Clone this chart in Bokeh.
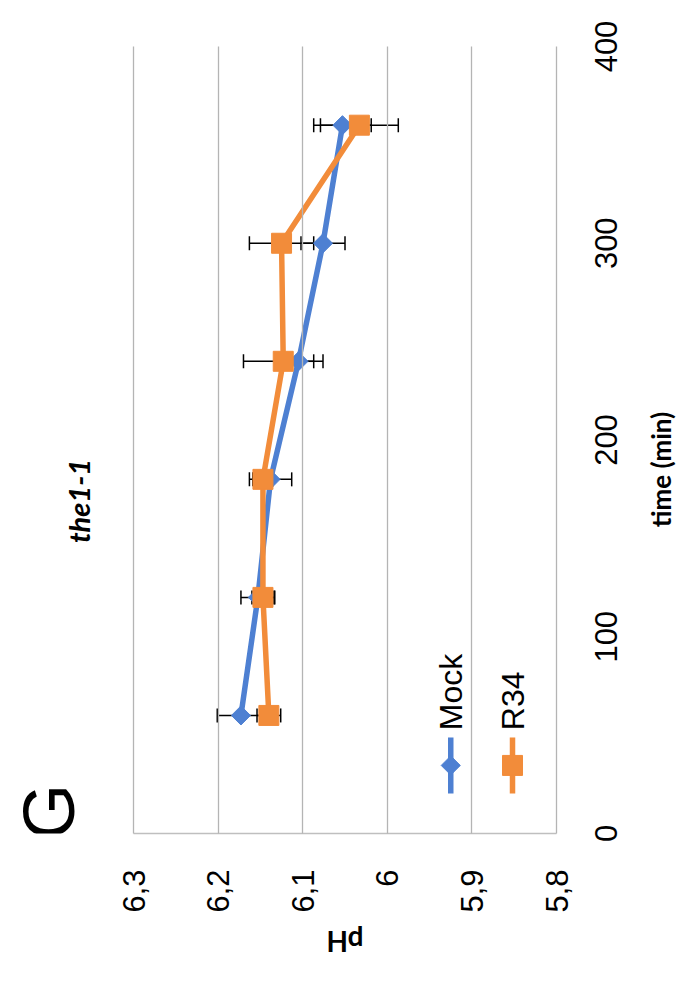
import math
from bokeh.plotting import figure
from bokeh.models import (Range1d, FixedTicker, CustomJSTickFormatter, ColumnDataSource,
                          Whisker, TeeHead, Label)
from bokeh.embed import file_html
from bokeh.resources import INLINE

# ---------------- data ----------------
time_min = [60, 120, 180, 240, 300, 360]
mock_ph = [6.173, 6.153, 6.138, 6.105, 6.076, 6.053]
mock_err = [0.028, 0.020, 0.025, 0.018, 0.026, 0.034]
r34_ph = [6.140, 6.147, 6.147, 6.123, 6.125, 6.033]
r34_err = [0.014, 0.013, 0.012, 0.047, 0.038, 0.046]

ph_ticks = [5.8, 5.9, 6.0, 6.1, 6.2, 6.3]
time_ticks = [0, 100, 200, 300, 400]
series_names = ["Mock", "R34"]
title_text = "the1-1"
panel_letter = "G"
x_title = "time (min)"
y_title = "pH"

BLUE = "#4E80D2"
ORANGE = "#F28C3A"
GRID = "#B4B4B4"

# The whole chart is drawn rotated (time runs upward, pH decreases to the right).
# The plot frame covers the full width and the top of the canvas, so that the
# titles and rotated time labels lying around the value area are not clipped.
PH_LEFT, PH_RIGHT = 6.45721, 5.65225      # frame edges in pH units
T_TOP = 423.38                             # frame top in minutes
p = figure(width=681, height=994, output_backend="svg", toolbar_location=None,
           x_range=Range1d(PH_LEFT, PH_RIGHT), y_range=Range1d(0, T_TOP),
           x_axis_location="below", y_axis_location=None,
           min_border_left=0, min_border_right=0,
           min_border_top=0, min_border_bottom=161)
p.outline_line_color = None
p.background_fill_color = "white"
p.border_fill_color = "white"
p.xgrid.visible = False
p.ygrid.visible = False

# pH axis at the bottom; its long inward ticks are the vertical gridlines
xa = p.xaxis[0]
xa.ticker = FixedTicker(ticks=ph_ticks)
xa.bounds = (min(ph_ticks), max(ph_ticks))
xa.formatter = CustomJSTickFormatter(
    code="return (Math.round(tick*10)/10).toString().replace('.', ',');")
xa.major_label_orientation = math.pi / 2
xa.major_tick_in = 787
xa.major_tick_out = 0
xa.major_tick_line_color = GRID
xa.major_tick_line_width = 1.3
xa.minor_tick_line_color = None
xa.axis_line_color = "#BFBFBF"
xa.axis_line_width = 1.5
xa.major_label_standoff = 36
xa.major_label_text_font = "Liberation Sans"
xa.major_label_text_font_size = "31px"
xa.major_label_text_color = "black"

src = ColumnDataSource(dict(
    t=time_min, mock=mock_ph, r34=r34_ph,
    mock_lo=[v - e for v, e in zip(mock_ph, mock_err)],
    mock_hi=[v + e for v, e in zip(mock_ph, mock_err)],
    r34_lo=[v - e for v, e in zip(r34_ph, r34_err)],
    r34_hi=[v + e for v, e in zip(r34_ph, r34_err)],
))

def head():
    return TeeHead(size=14, line_color="black", line_width=1.5)

for lo, hi in (("mock_lo", "mock_hi"), ("r34_lo", "r34_hi")):
    p.add_layout(Whisker(source=src, base="t", lower=lo, upper=hi, dimension="width",
                         line_color="black", line_width=1.5, level="underlay",
                         lower_head=head(), upper_head=head()))

p.line(x="mock", y="t", source=src, line_color=BLUE, line_width=5.5)
p.scatter(x="mock", y="t", source=src, marker="square", angle=math.pi / 4, size=13.5,
          fill_color=BLUE, line_color=BLUE)
p.line(x="r34", y="t", source=src, line_color=ORANGE, line_width=5.5)
p.scatter(x="r34", y="t", source=src, marker="square", size=20,
          fill_color=ORANGE, line_color=ORANGE)

# ---------------- manual (rotated) legend ----------------
LEG_X = [5.925, 5.852]
LEG_Y0, LEG_Y1, LEG_YM, LEG_TXT = 20.3, 48.8, 34.6, 52.5
styles = [(BLUE, "square", math.pi / 4, 13.5), (ORANGE, "square", 0, 20)]
for lx, name, (col, mk, ang, sz) in zip(LEG_X, series_names, styles):
    p.line(x=[lx, lx], y=[LEG_Y0, LEG_Y1], line_color=col, line_width=5.5)
    p.scatter(x=[lx], y=[LEG_YM], marker=mk, angle=ang, size=sz,
              fill_color=col, line_color=col)
    p.add_layout(Label(x=lx, y=LEG_TXT, text=name, angle=math.pi / 2,
                       text_align="left", text_baseline="middle",
                       text_font="Liberation Sans", text_font_size="32px",
                       text_color="black"))

# ---------------- texts (data coordinates through the plot's scales) ----------------
def text_label(x, y, text, angle, font, style, size, place="center"):
    p.add_layout(Label(x=x, y=y, text=text, angle=angle,
                       text_align="center", text_baseline="middle",
                       text_font=font, text_font_style=style,
                       text_font_size=size, text_color="black"), place)

TIME_LABEL_X = 5.741
for t in time_ticks:
    # the "0" label reaches below the frame: keep it in the bottom panel
    text_label(TIME_LABEL_X, t, str(t), math.pi / 2, "Liberation Sans", "normal", "31px",
               "below" if t == 0 else "center")
text_label(5.676, 185, x_title, math.pi / 2, "Lato", "bold", "26px")
text_label(6.05, -55.4, y_title, math.pi, "Lato", "bold", "28px", "below")
text_label(6.365, 169, title_text, math.pi / 2, "Lato", "bold italic", "29px")
text_label(6.40, 11, panel_letter, math.pi / 2, "Liberation Sans", "normal", "72px")

open("out.html", "w").write(file_html(p, INLINE))
